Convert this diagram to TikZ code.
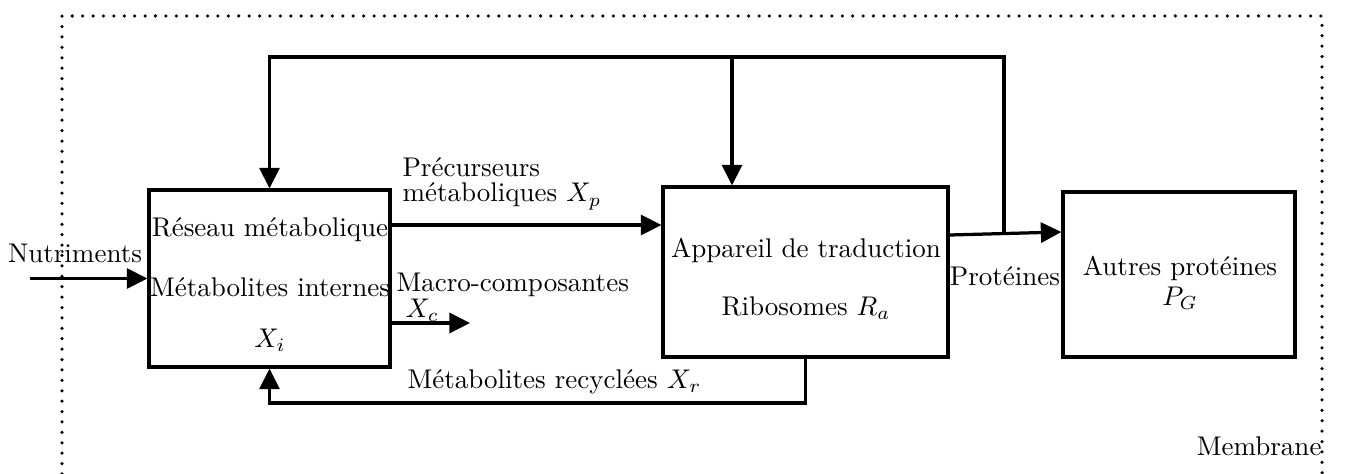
\documentclass[tikz,border=0pt]{standalone}
\usetikzlibrary{arrows.meta}
\begin{document}
\begin{tikzpicture}[x=0.37pt,y=-0.37pt,
  box/.style={draw,line width=1.2pt,rectangle,inner sep=0pt},
  conn/.style={line width=1.2pt},
  arr/.style={line width=1.2pt,-{Triangle[length=7.6pt,width=7.4pt]}},
  frame/.style={line width=1.3pt,line cap=round,dash pattern=on 0pt off 3.85pt},
  lbl/.style={anchor=base,inner sep=0pt},
  lblw/.style={anchor=base west,inner sep=0pt}]
\useasboundingbox (0,0) rectangle (1345,474);
% membrane frame
\coordinate (fbl) at (62,474);
\coordinate (ftl) at (62,16);
\coordinate (ftr) at (1322,16);
\coordinate (fbr) at (1322,474);
\draw[frame] (fbl) -- (ftl) -- (ftr) -- (fbr);
% boxes
\node[box,minimum width=241*0.37pt,minimum height=177*0.37pt] (b1) at (269.5,278.5) {};
\node[box,minimum width=285*0.37pt,minimum height=170*0.37pt] (b2) at (805.5,272) {};
\node[box,minimum width=232*0.37pt,minimum height=165*0.37pt] (b3) at (1179,274.5) {};
% texts
\node[lbl] (t1a) at (270,237) {Réseau métabolique};
\node[lbl] (t1b) at (270,296) {Métabolites internes};
\node[lbl] (t1c) at (270,347) {$X_i$};
\node[lbl] (t2a) at (806,258) {Appareil de traduction};
\node[lbl] (t2b) at (806,315) {Ribosomes $R_a$};
\node[lbl] (t3a) at (1180,275) {Autres protéines};
\node[lbl] (t3b) at (1180,305) {$P_G$};
\node[lbl] (nut) at (75,262) {Nutriments};
\node[lblw] (pre1) at (402,177) {Précurseurs};
\node[lblw] (pre2) at (402,202) {métaboliques $X_p$};
\node[lblw] (mac1) at (396,292) {Macro-composantes};
\node[lblw] (mac2) at (405,317) {$X_c$};
\node[lblw] (rec) at (407,388) {Métabolites recyclées $X_r$};
\node[lbl] (prot) at (1005,285) {Protéines};
\node[anchor=base east,inner sep=0pt] (mem) at (1322,455) {Membrane};
% connectors
\coordinate (nin) at (30,278.5);
\draw[arr] (nin) -- (b1.west);
\coordinate (py) at (0,225);
\draw[arr] (b1.east |- py) -- (b2.west |- py);
\coordinate (my) at (0,323);
\coordinate (mx) at (470,323);
\draw[arr] (b1.east |- my) -- (mx);
\coordinate (pa) at (0,235);
\coordinate (pb) at (0,232);
\draw[arr] (b2.east |- pa) -- (b3.west |- pb);
\coordinate (pj) at (1004,233.5);
\coordinate (tr) at (1004,57);
\coordinate (tm) at (732,57);
\coordinate (tl) at (269.5,57);
\draw[arr] (pj) -- (tr) -- (tl) -- (b1.north);
\draw[arr] (tm) -- (tm |- b2.north);
\coordinate (rr) at (805.5,403);
\coordinate (rl) at (269.5,403);
\draw[arr] (b2.south) -- (rr) -- (rl) -- (b1.south);
\end{tikzpicture}
\end{document}
